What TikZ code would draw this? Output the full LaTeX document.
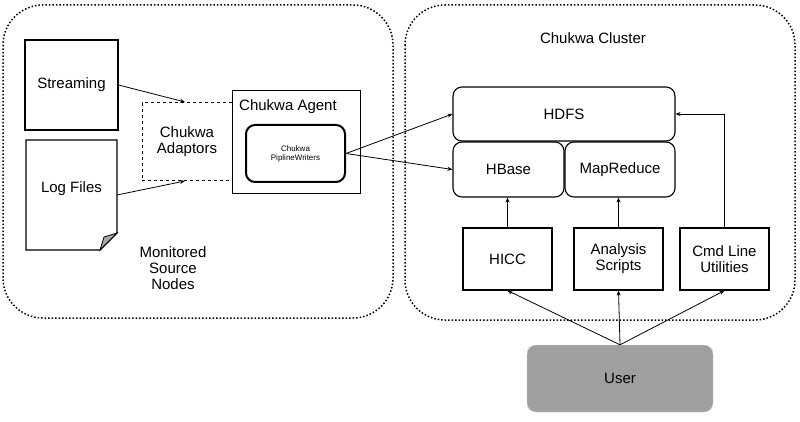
\documentclass[tikz,border=0pt]{standalone}
\usepackage{fontspec}
\setmainfont{Liberation Sans}
\usetikzlibrary{arrows.meta}
\begin{document}
\begin{tikzpicture}[x=1pt,y=-1pt,
  box/.style={draw,line width=1.1pt,align=center,font=\fontsize{15}{16}\selectfont},
  rbox/.style={box,rounded corners=9pt},
  grp/.style={draw,dotted,line width=1.5pt,rounded corners=40pt},
  arr/.style={-{Stealth[length=5pt,width=4pt]},line width=0.8pt},
  lbl/.style={align=center,font=\fontsize{15}{16}\selectfont}]
\useasboundingbox (0,0) rectangle (800,422);
\draw[grp] (3,5) rectangle (393,318);
\draw[grp] (405,5) rectangle (795,320);
\node[lbl] (cl) at (593,38) {Chukwa Cluster};
\node[lbl] (mon) at (173,268) {Monitored\\Source\\Nodes};
\node[box,minimum width=93pt,minimum height=90pt] (st) at (71.5,85) {Streaming};
\draw[line width=1.1pt] (26,140) -- (117,140) -- (117,233) -- (100,250) -- (26,250) -- cycle;
\draw[line width=0.8pt,fill=gray!70] (117,233) -- (104,237) -- (100,250) -- cycle;
\node[lbl] (lf) at (71.5,189) {Log Files};
\coordinate (lfr) at (117,195);
\node[draw,dashed,line width=1pt,minimum width=90pt,minimum height=78pt,lbl] (ad) at (187,142) {Chukwa\\Adaptors};
\node[draw,line width=0.9pt,minimum width=128pt,minimum height=103pt] (ag) at (296,141.5) {};
\node[lbl] (agt) at (288,107) {Chukwa Agent};
\node[rbox,minimum width=99pt,minimum height=57pt,font=\fontsize{8}{9}\selectfont,line width=2pt] (pw) at (295.5,153.5) {Chukwa\\PiplineWriters};
\draw[arr] (st.east) -- (185,102);
\draw[arr] (lfr) -- (185,181);
\node[rbox,minimum width=222pt,minimum height=54pt] (hdfs) at (564,114) {HDFS};
\node[rbox,minimum width=111pt,minimum height=55pt] (hb) at (508.5,169.5) {HBase};
\node[rbox,minimum width=110pt,minimum height=55pt] (mr) at (620,169.5) {MapReduce};
\node[box,minimum width=89pt,minimum height=62pt] (hicc) at (507.5,259) {HICC};
\node[box,minimum width=89pt,minimum height=62pt] (an) at (618.5,259) {Analysis\\Scripts};
\node[box,minimum width=89pt,minimum height=62pt] (cmd) at (724.5,259) {Cmd Line\\Utilities};
\node[rounded corners=9pt,fill=gray!75,draw=gray!40,minimum width=186pt,minimum height=67pt,lbl] (user) at (620,378.5) {User};
\draw[arr] (pw.east) -- (hdfs.west);
\draw[arr] (pw.east) -- (hb.west);
\draw[arr] (hicc.north) -- (hicc.north|-hb.south);
\draw[arr] (an.north) -- (an.north|-mr.south);
\draw[arr] (cmd.north) -- (cmd.north|-hdfs.east) -- (hdfs.east);
\draw[arr] (user.north) -- (hicc.south);
\draw[arr] (user.north) -- (an.south);
\draw[arr] (user.north) -- (cmd.south);
\end{tikzpicture}
\end{document}
